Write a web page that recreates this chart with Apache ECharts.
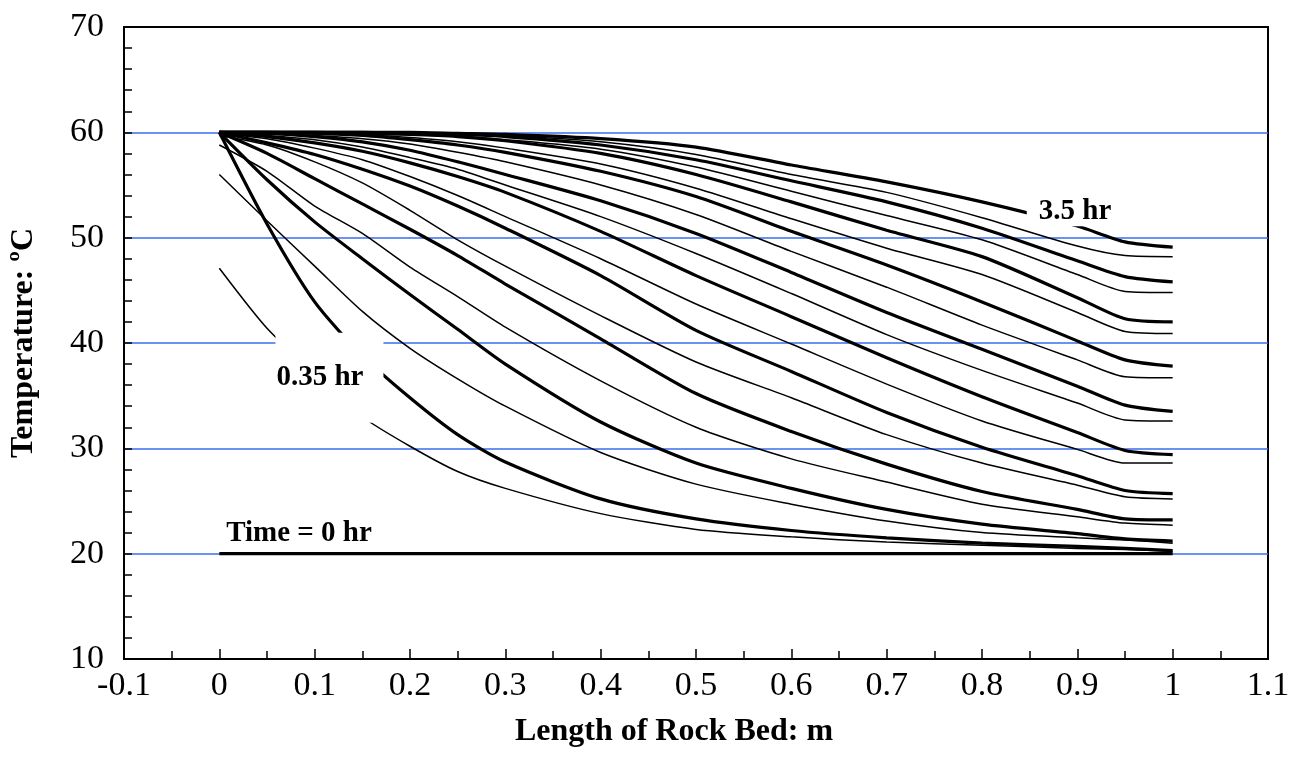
<!DOCTYPE html>
<html><head><meta charset="utf-8">
<script src="https://cdn.jsdelivr.net/npm/echarts@6/dist/echarts.min.js"></script>
<style>html,body{margin:0;padding:0;background:#fff}#c{width:1305px;height:772px}</style>
</head><body><div id="c"></div>
<script>
// Position along the rock bed (m)
const xs = [0, 0.05, 0.1, 0.15, 0.2, 0.25, 0.3, 0.4, 0.5, 0.6, 0.7, 0.8, 0.9, 0.95, 1];

// Thick curves (temperature, °C)
const thick_0h    = [20, 20, 20, 20, 20, 20, 20, 20, 20, 20, 20, 20, 20, 20, 20];
const thick_035h  = [60, 51.3, 43.9, 38.8, 34.8, 31.3, 28.7, 25.2, 23.3, 22.2, 21.5, 21.0, 20.7, 20.5, 20.3];
const thick_07h   = [60, 55.5, 51.5, 48.0, 44.6, 41.3, 38.0, 32.5, 28.6, 26.2, 24.2, 22.8, 21.9, 21.4, 21.2];
const thick_105h  = [60, 58.0, 55.6, 53.2, 50.8, 48.3, 45.6, 40.4, 35.2, 31.6, 28.5, 25.9, 24.2, 23.3, 23.2];
const thick_14h   = [60, 59.0, 57.9, 56.5, 54.9, 53.0, 50.9, 46.4, 41.2, 37.3, 33.4, 30.1, 27.4, 26.0, 25.7];
const thick_175h  = [60, 59.6, 59.0, 58.2, 57.1, 55.8, 54.3, 50.6, 46.4, 42.5, 38.6, 34.9, 31.5, 29.8, 29.4];
const thick_21h   = [60, 59.9, 59.6, 59.1, 58.3, 57.2, 56.0, 53.5, 50.4, 46.7, 42.9, 39.4, 35.9, 34.1, 33.5];
const thick_245h  = [60, 60, 59.9, 59.7, 59.3, 58.8, 58.1, 56.3, 53.9, 50.6, 47.4, 43.9, 40.2, 38.4, 37.8];
const thick_28h   = [60, 60, 60, 59.9, 59.8, 59.6, 59.2, 58.0, 56.0, 53.4, 50.7, 48.2, 44.3, 42.3, 42.0];
const thick_315h  = [60, 60, 60, 60, 59.9, 59.8, 59.6, 58.8, 57.4, 55.4, 53.4, 50.9, 47.8, 46.3, 45.8];
const thick_35h   = [60, 60, 60, 60, 60, 59.9, 59.8, 59.4, 58.6, 56.9, 55.3, 53.4, 51.1, 49.6, 49.1];

// Thin curves (temperature, °C)
const thin_035h = [47.1, 41.4, 37.1, 33.0, 30.2, 27.8, 26.2, 23.8, 22.3, 21.6, 21.1, 20.8, 20.5, 20.4, 20.2];
const thin_07h  = [56.0, 51.6, 47.3, 43.0, 39.5, 36.6, 34.0, 29.6, 26.6, 24.7, 23.1, 22.0, 21.5, 21.3, 21.0];
const thin_105h = [58.8, 56.3, 53.0, 50.4, 47.2, 44.4, 41.5, 36.4, 32.0, 29.0, 26.8, 24.7, 23.5, 22.9, 22.7];
const thin_14h  = [59.7, 58.8, 57.2, 55.2, 52.6, 49.8, 47.3, 42.6, 38.2, 34.8, 31.3, 28.6, 26.5, 25.4, 25.2];
const thin_175h = [59.9, 59.4, 58.5, 57.4, 55.8, 54.0, 52.0, 48.0, 43.7, 39.9, 36.1, 32.6, 29.9, 28.6, 28.6];
const thin_21h  = [60, 59.7, 59.3, 58.6, 57.6, 56.5, 55.0, 52.0, 48.5, 44.7, 40.8, 37.4, 34.3, 32.7, 32.6];
const thin_245h = [60, 59.9, 59.7, 59.4, 58.9, 58.1, 57.2, 55.0, 52.2, 48.7, 45.3, 41.7, 38.4, 36.8, 36.7];
const thin_28h  = [60, 60, 59.9, 59.8, 59.5, 59.1, 58.5, 57.0, 54.7, 51.8, 49.0, 46.5, 42.9, 41.1, 40.9];
const thin_315h = [60, 60, 60, 59.9, 59.8, 59.6, 59.3, 58.4, 56.7, 54.4, 52.1, 49.8, 46.5, 44.9, 44.8];
const thin_35h  = [60, 60, 60, 60, 59.9, 59.8, 59.7, 59.1, 57.9, 56.0, 54.3, 51.9, 49.2, 48.3, 48.2];

// Annotation texts and their anchor positions (x in m, y in °C)
const noteText = ['Time = 0 hr', '0.35 hr', '3.5 hr'];
const noteX = [0.0836, 0.1155, 0.8965];
const noteY = [21.95, 36.7, 52.5];

// Axis titles
const xTitle = 'Length of Rock Bed: m';
const yTitle = 'Temperature: \u00baC';

const thickSets = [thick_0h, thick_035h, thick_07h, thick_105h, thick_14h, thick_175h, thick_21h, thick_245h, thick_28h, thick_315h, thick_35h];
const thinSets = [thin_035h, thin_07h, thin_105h, thin_14h, thin_175h, thin_21h, thin_245h, thin_28h, thin_315h, thin_35h];

const FONT = '"Liberation Serif", "Times New Roman", serif';
const pair = arr => xs.map((x, i) => [x, arr[i]]);

const series = [];
thinSets.forEach((arr, i) => series.push({
  type: 'line', name: 'thin' + i, data: pair(arr), symbol: 'none', smooth: 0.25,
  lineStyle: { color: '#000', width: 1.5 }, z: 3, silent: true
}));
thickSets.forEach((arr, i) => series.push({
  type: 'line', name: 'thick' + i, data: pair(arr), symbol: 'none', smooth: 0.25,
  lineStyle: { color: '#000', width: 3.2 }, z: 4, silent: true
}));

const notePadding = [[0, 4, 0, 4], [34, 20, 26, 1], [0, 10, 0, 12]];
series.push({
  type: 'scatter', name: 'notes', z: 10, zlevel: 1, symbolSize: 1, silent: true,
  itemStyle: { color: '#fff', opacity: 1 },
  data: noteText.map((t, i) => ({
    value: [noteX[i], noteY[i]],
    label: {
      show: true, position: 'inside', formatter: t, opacity: 1,
      fontFamily: FONT, fontWeight: 'bold', fontSize: 29, color: '#000',
      textBorderWidth: 0, lineHeight: 30, backgroundColor: '#ffffff', padding: notePadding[i]
    }
  }))
});

const blue = '#3b6cf0';
const chart = echarts.init(document.getElementById('c'), null, { renderer: 'canvas' });
chart.setOption({
  animation: false,
  backgroundColor: '#fff',
  grid: { left: 120, right: 37, top: 27, bottom: 113, show: true, borderColor: '#000', borderWidth: 2, backgroundColor: 'transparent' },
  xAxis: {
    type: 'value', min: -0.1, max: 1.1, interval: 0.1,
    name: xTitle, nameLocation: 'middle', nameGap: 57,
    nameTextStyle: { fontFamily: FONT, fontWeight: 'bold', fontSize: 32, color: '#000', padding: [0, 44, 0, 0] },
    axisLine: { show: true, onZero: false, lineStyle: { color: '#000', width: 2 } },
    axisTick: { show: true, inside: true, length: 10, lineStyle: { color: '#000', width: 1.5 } },
    minorTick: { show: true, splitNumber: 2, length: 8, lineStyle: { color: '#000', width: 1.5 } },
    axisLabel: { margin: 10, fontFamily: FONT, fontSize: 34, color: '#000',
      formatter: v => String(Math.round(v * 10) / 10) },
    splitLine: { show: false }
  },
  yAxis: {
    type: 'value', min: 10, max: 70, interval: 10,
    name: yTitle, nameLocation: 'middle', nameGap: 84, nameRotate: 90,
    nameTextStyle: { fontFamily: FONT, fontWeight: 'bold', fontSize: 32, color: '#000' },
    axisLine: { show: true, onZero: false, lineStyle: { color: '#000', width: 2 } },
    axisTick: { show: true, inside: true, length: 8, lineStyle: { color: '#000', width: 1.5 } },
    minorTick: { show: true, splitNumber: 5, length: 8, lineStyle: { color: '#000', width: 1.5 } },
    axisLabel: { margin: 20, fontFamily: FONT, fontSize: 34, color: '#000' },
    splitLine: { show: true, lineStyle: { width: 1.5, color: ['rgba(0,0,0,0)', blue, blue, blue, blue, blue, 'rgba(0,0,0,0)'] } }
  },
  series: series
});
</script></body></html>
